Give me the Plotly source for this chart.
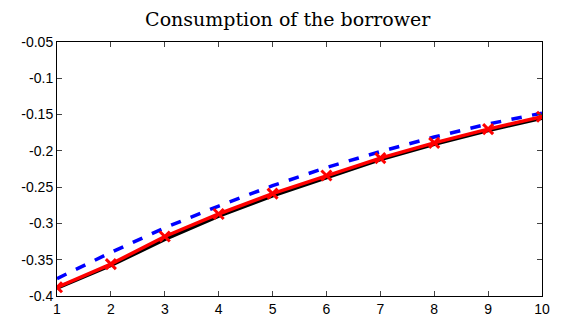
import plotly.graph_objects as go

periods = [1, 2, 3, 4, 5, 6, 7, 8, 9, 10]
black_vals = [-0.389, -0.358, -0.322, -0.290, -0.262, -0.237, -0.212, -0.191, -0.172, -0.155]
red_vals = [-0.388, -0.356, -0.318, -0.287, -0.259, -0.234, -0.210, -0.189, -0.170, -0.153]
blue_vals = [-0.376, -0.340, -0.306, -0.276, -0.248, -0.223, -0.201, -0.181, -0.163, -0.148]
y_ticks = [-0.4, -0.35, -0.3, -0.25, -0.2, -0.15, -0.1, -0.05]
y_labels = ["-0.4", "-0.35", "-0.3", "-0.25", "-0.2", "-0.15", "-0.1", "-0.05"]

fig = go.Figure()
fig.add_trace(go.Scatter(x=periods, y=black_vals, mode="lines",
                         line=dict(color="black", width=3.5)))
fig.add_trace(go.Scatter(x=periods, y=blue_vals, mode="lines",
                         line=dict(color="#0000ff", width=3.5, dash="dash")))
fig.add_trace(go.Scatter(x=periods, y=red_vals, mode="lines+markers",
                         line=dict(color="#ff0000", width=3.5),
                         marker=dict(symbol="x-thin", size=10,
                                     line=dict(color="#ff0000", width=3))))

tick_font = dict(family="Liberation Sans", size=14, color="black")

fig.update_layout(
    width=562, height=329,
    margin=dict(l=57, r=13, t=42, b=24),
    plot_bgcolor="white", paper_bgcolor="white",
    showlegend=False,
    title=dict(text="Consumption of the borrower", x=0.512, xanchor="center",
               y=0.94, yanchor="middle",
               font=dict(family="DejaVu Serif", size=19, color="black")),
    font=tick_font,
)
fig.update_xaxes(range=[1, 10], tickvals=periods, ticks="inside", ticklen=5,
                 showline=True, linecolor="black", linewidth=1, mirror="ticks",
                 showgrid=False, zeroline=False, tickfont=tick_font)
fig.update_yaxes(range=[-0.4, -0.05], tickvals=y_ticks, ticktext=y_labels,
                 ticks="inside", ticklen=5,
                 showline=True, linecolor="black", linewidth=1, mirror="ticks",
                 showgrid=False, zeroline=False, tickfont=tick_font)

fig.write_html("out.html")
